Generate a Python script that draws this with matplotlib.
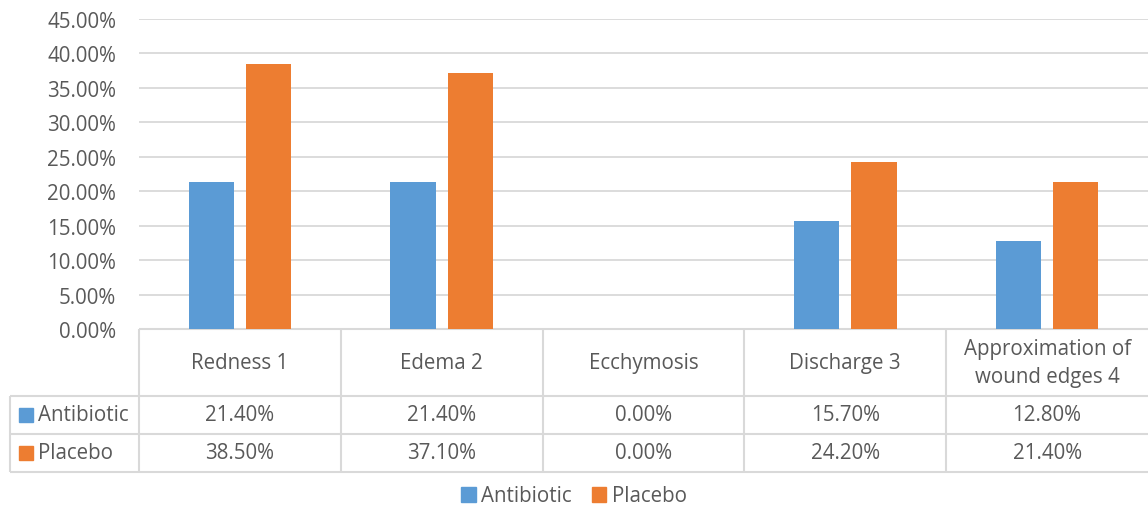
import numpy as np
import matplotlib

matplotlib.use("Agg")
import matplotlib.pyplot as plt
from matplotlib.patches import Patch
from matplotlib.transforms import blended_transform_factory

# Data
categories = ["Redness 1", "Edema 2", "Ecchymosis", "Discharge 3",
              "Approximation of\nwound edges 4"]
series_names = ["Antibiotic", "Placebo"]
antibiotic = [0.214, 0.214, 0.0, 0.157, 0.128]
placebo = [0.385, 0.371, 0.0, 0.242, 0.214]
y_ticks = [0.0, 0.05, 0.10, 0.15, 0.20, 0.25, 0.30, 0.35, 0.40, 0.45]

BLUE = "#5B9BD5"
ORANGE = "#ED7D31"
TEXT = "#595959"
GRID = "#D9D9D9"
FS = 14.8

plt.rcParams["font.family"] = ["Open Sans", "DejaVu Sans"]

W, H = 1148, 510
fig = plt.figure(figsize=(W / 100, H / 100), dpi=100)

# full-figure axes in pixel units, used for the data table
bg = fig.add_axes([0, 0, 1, 1])
bg.set_xlim(0, W)
bg.set_ylim(H, 0)
bg.axis("off")

# bar axes
ax = fig.add_axes([139 / W, 1 - 330 / H, 1 - 139 / W, 310 / H])
x = np.arange(len(categories))
bw = 0.224
off = 0.142
ax.bar(x - off, antibiotic, bw, color=BLUE, zorder=3)
ax.bar(x + off, placebo, bw, color=ORANGE, zorder=3)

ax.set_xlim(-0.5, len(categories) - 0.5)
ax.set_ylim(0, 0.45)
ax.set_yticks(y_ticks)
ax.set_yticklabels([f"{v:.2%}" for v in y_ticks])
ax.tick_params(axis="y", length=0, pad=16.5, labelsize=FS, labelcolor=TEXT)
ax.set_xticks([])
ax.grid(axis="y", color=GRID, linewidth=1.3, zorder=0)
for s in ax.spines.values():
    s.set_visible(False)
ax.patch.set_alpha(0)

# data table below the plot
tr = blended_transform_factory(ax.transData, bg.transData)
left_px = 10
y_head, y_r1, y_r2, y_end = 330, 397, 435, 473
x_lo, x_hi = -0.5, len(categories) - 0.5
lkw = dict(color=GRID, linewidth=1.5, solid_capstyle="butt", clip_on=False)

bg.plot([x_lo, x_hi + 0.1], [y_head, y_head], transform=tr, **lkw)
for yy in (y_r1, y_r2, y_end):
    bg.plot([left_px, W], [yy, yy], **lkw)
bg.plot([left_px, left_px], [y_r1, y_end], **lkw)
for b in np.arange(x_lo, x_hi, 1.0):
    bg.plot([b, b], [y_head, y_end], transform=tr, **lkw)

for i, cat in enumerate(categories):
    bg.text(i, (y_head + y_r1) / 2, cat, transform=tr, ha="center",
            va="center", fontsize=FS, color=TEXT, linespacing=1.45)
    bg.text(i, (y_r1 + y_r2) / 2, f"{antibiotic[i] * 100:.2f}%", transform=tr,
            ha="center", va="center", fontsize=FS, color=TEXT)
    bg.text(i, (y_r2 + y_end) / 2, f"{placebo[i] * 100:.2f}%", transform=tr,
            ha="center", va="center", fontsize=FS, color=TEXT)

for name, col, (y0, y1) in zip(series_names, [BLUE, ORANGE],
                               [(y_r1, y_r2), (y_r2, y_end)]):
    yc = (y0 + y1) / 2
    bg.add_patch(plt.Rectangle((19, yc - 7), 14, 14, color=col))
    bg.text(38, yc, name, ha="left", va="center", fontsize=FS, color=TEXT)

# legend at the bottom
handles = [Patch(color=BLUE, label=series_names[0]),
           Patch(color=ORANGE, label=series_names[1])]
leg = fig.legend(handles=handles, loc="center", ncol=2, frameon=False,
                 bbox_to_anchor=(0.5, 1 - 497 / H), fontsize=FS,
                 handlelength=0.7, handleheight=0.7, handletextpad=0.25,
                 columnspacing=1.0)
for t in leg.get_texts():
    t.set_color(TEXT)

fig.savefig("out.png", dpi=100)
